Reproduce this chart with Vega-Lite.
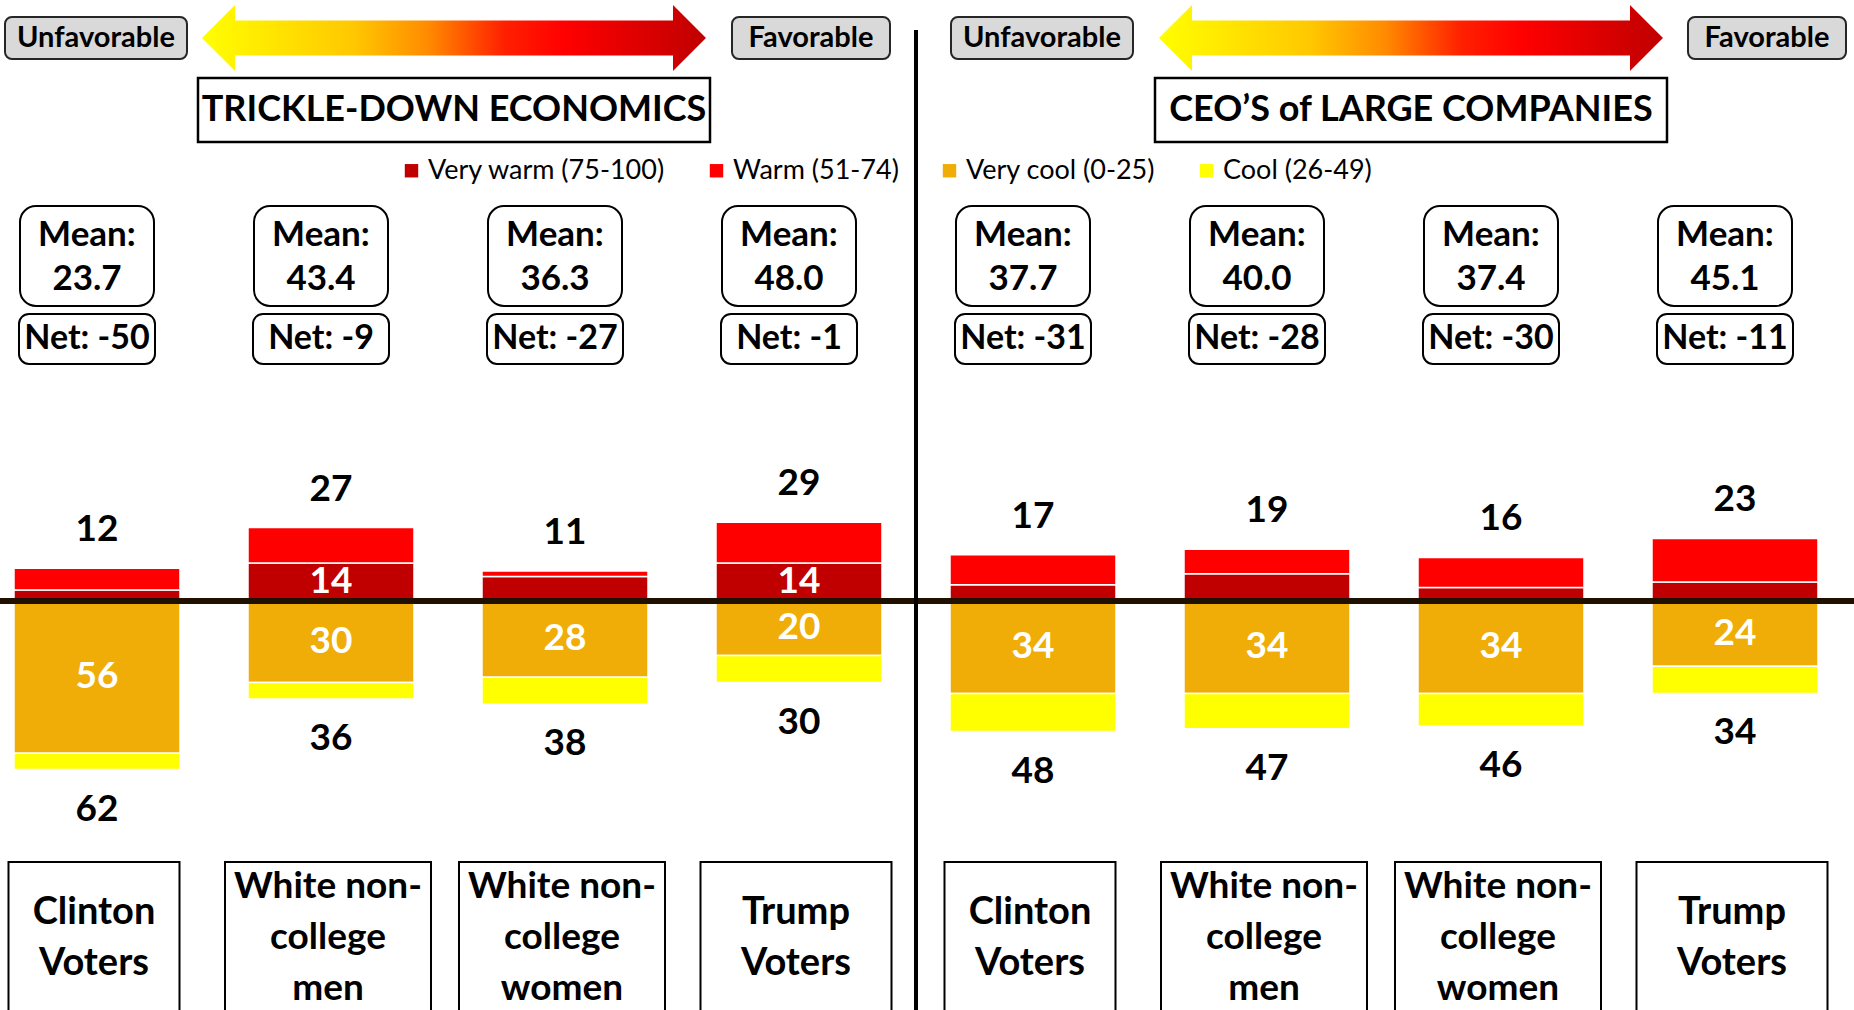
{
  "$schema": "https://vega.github.io/schema/vega-lite/v6.json",
  "width": 1854,
  "height": 1010,
  "autosize": {"type": "none"},
  "padding": 0,
  "background": "white",
  "config": {"view": {"stroke": null}, "axis": {"disable": true}, "font": "Lato"},
  "datasets": {
    "segments": [
      {"panel": "Trickle-down economics", "slot": 0, "group": "Clinton Voters", "category": "Very warm (75-100)", "level": "very", "side": "favorable", "value": 4},
      {"panel": "Trickle-down economics", "slot": 0, "group": "Clinton Voters", "category": "Warm (51-74)", "level": "moderate", "side": "favorable", "value": 8},
      {"panel": "Trickle-down economics", "slot": 0, "group": "Clinton Voters", "category": "Very cool (0-25)", "level": "very", "side": "unfavorable", "value": -56},
      {"panel": "Trickle-down economics", "slot": 0, "group": "Clinton Voters", "category": "Cool (26-49)", "level": "moderate", "side": "unfavorable", "value": -6},
      {"panel": "Trickle-down economics", "slot": 1, "group": "White non-college men", "category": "Very warm (75-100)", "level": "very", "side": "favorable", "value": 14},
      {"panel": "Trickle-down economics", "slot": 1, "group": "White non-college men", "category": "Warm (51-74)", "level": "moderate", "side": "favorable", "value": 13},
      {"panel": "Trickle-down economics", "slot": 1, "group": "White non-college men", "category": "Very cool (0-25)", "level": "very", "side": "unfavorable", "value": -30},
      {"panel": "Trickle-down economics", "slot": 1, "group": "White non-college men", "category": "Cool (26-49)", "level": "moderate", "side": "unfavorable", "value": -6},
      {"panel": "Trickle-down economics", "slot": 2, "group": "White non-college women", "category": "Very warm (75-100)", "level": "very", "side": "favorable", "value": 9},
      {"panel": "Trickle-down economics", "slot": 2, "group": "White non-college women", "category": "Warm (51-74)", "level": "moderate", "side": "favorable", "value": 2},
      {"panel": "Trickle-down economics", "slot": 2, "group": "White non-college women", "category": "Very cool (0-25)", "level": "very", "side": "unfavorable", "value": -28},
      {"panel": "Trickle-down economics", "slot": 2, "group": "White non-college women", "category": "Cool (26-49)", "level": "moderate", "side": "unfavorable", "value": -10},
      {"panel": "Trickle-down economics", "slot": 3, "group": "Trump Voters", "category": "Very warm (75-100)", "level": "very", "side": "favorable", "value": 14},
      {"panel": "Trickle-down economics", "slot": 3, "group": "Trump Voters", "category": "Warm (51-74)", "level": "moderate", "side": "favorable", "value": 15},
      {"panel": "Trickle-down economics", "slot": 3, "group": "Trump Voters", "category": "Very cool (0-25)", "level": "very", "side": "unfavorable", "value": -20},
      {"panel": "Trickle-down economics", "slot": 3, "group": "Trump Voters", "category": "Cool (26-49)", "level": "moderate", "side": "unfavorable", "value": -10},
      {"panel": "CEOs of large companies", "slot": 4, "group": "Clinton Voters", "category": "Very warm (75-100)", "level": "very", "side": "favorable", "value": 6},
      {"panel": "CEOs of large companies", "slot": 4, "group": "Clinton Voters", "category": "Warm (51-74)", "level": "moderate", "side": "favorable", "value": 11},
      {"panel": "CEOs of large companies", "slot": 4, "group": "Clinton Voters", "category": "Very cool (0-25)", "level": "very", "side": "unfavorable", "value": -34},
      {"panel": "CEOs of large companies", "slot": 4, "group": "Clinton Voters", "category": "Cool (26-49)", "level": "moderate", "side": "unfavorable", "value": -14},
      {"panel": "CEOs of large companies", "slot": 5, "group": "White non-college men", "category": "Very warm (75-100)", "level": "very", "side": "favorable", "value": 10},
      {"panel": "CEOs of large companies", "slot": 5, "group": "White non-college men", "category": "Warm (51-74)", "level": "moderate", "side": "favorable", "value": 9},
      {"panel": "CEOs of large companies", "slot": 5, "group": "White non-college men", "category": "Very cool (0-25)", "level": "very", "side": "unfavorable", "value": -34},
      {"panel": "CEOs of large companies", "slot": 5, "group": "White non-college men", "category": "Cool (26-49)", "level": "moderate", "side": "unfavorable", "value": -13},
      {"panel": "CEOs of large companies", "slot": 6, "group": "White non-college women", "category": "Very warm (75-100)", "level": "very", "side": "favorable", "value": 5},
      {"panel": "CEOs of large companies", "slot": 6, "group": "White non-college women", "category": "Warm (51-74)", "level": "moderate", "side": "favorable", "value": 11},
      {"panel": "CEOs of large companies", "slot": 6, "group": "White non-college women", "category": "Very cool (0-25)", "level": "very", "side": "unfavorable", "value": -34},
      {"panel": "CEOs of large companies", "slot": 6, "group": "White non-college women", "category": "Cool (26-49)", "level": "moderate", "side": "unfavorable", "value": -12},
      {"panel": "CEOs of large companies", "slot": 7, "group": "Trump Voters", "category": "Very warm (75-100)", "level": "very", "side": "favorable", "value": 7},
      {"panel": "CEOs of large companies", "slot": 7, "group": "Trump Voters", "category": "Warm (51-74)", "level": "moderate", "side": "favorable", "value": 16},
      {"panel": "CEOs of large companies", "slot": 7, "group": "Trump Voters", "category": "Very cool (0-25)", "level": "very", "side": "unfavorable", "value": -24},
      {"panel": "CEOs of large companies", "slot": 7, "group": "Trump Voters", "category": "Cool (26-49)", "level": "moderate", "side": "unfavorable", "value": -10}
    ],
    "groups": [
      {"panel": "Trickle-down economics", "slot": 0, "label": "Clinton\nVoters", "mean": 23.7, "net": -50},
      {"panel": "Trickle-down economics", "slot": 1, "label": "White non-\ncollege\nmen", "mean": 43.4, "net": -9},
      {"panel": "Trickle-down economics", "slot": 2, "label": "White non-\ncollege\nwomen", "mean": 36.3, "net": -27},
      {"panel": "Trickle-down economics", "slot": 3, "label": "Trump\nVoters", "mean": 48.0, "net": -1},
      {"panel": "CEOs of large companies", "slot": 4, "label": "Clinton\nVoters", "mean": 37.7, "net": -31},
      {"panel": "CEOs of large companies", "slot": 5, "label": "White non-\ncollege\nmen", "mean": 40.0, "net": -28},
      {"panel": "CEOs of large companies", "slot": 6, "label": "White non-\ncollege\nwomen", "mean": 37.4, "net": -30},
      {"panel": "CEOs of large companies", "slot": 7, "label": "Trump\nVoters", "mean": 45.1, "net": -11}
    ],
    "ends": [
      {"panel": "Trickle-down economics", "label": "Unfavorable", "slot": 0},
      {"panel": "Trickle-down economics", "label": "Favorable", "slot": 3},
      {"panel": "CEOs of large companies", "label": "Unfavorable", "slot": 4},
      {"panel": "CEOs of large companies", "label": "Favorable", "slot": 7}
    ],
    "topics": [
      {"panel": "Trickle-down economics", "title": "TRICKLE-DOWN ECONOMICS", "slot": 1.5},
      {"panel": "CEOs of large companies", "title": "CEO’S of LARGE COMPANIES", "slot": 5.5}
    ]
  },
  "layer": [
    {
      "data": {"name": "groups"},
      "mark": {"type": "bar", "fill": "white", "stroke": "black", "strokeWidth": 2, "clip": true, "xOffset": -3},
      "encoding": {
        "x": {"field": "slot", "type": "quantitative", "scale": {"domain": [-0.41453, 7.50855], "nice": false, "zero": false, "padding": 0}, "axis": null},
        "y": {"datum": -96.0, "type": "quantitative", "scale": {"domain": [-150.4, 221.0], "nice": false, "zero": false, "padding": 0}, "axis": null},
        "y2": {"datum": -160},
        "size": {"field": "label", "type": "nominal", "scale": {"type": "ordinal", "domain": ["Clinton\nVoters", "White non-\ncollege\nmen", "White non-\ncollege\nwomen", "Trump\nVoters"], "range": [171, 206, 206, 191]}, "legend": null}
      }
    },
    {
      "data": {"name": "groups"},
      "transform": [{"filter": "indexof(datum.label, 'college') < 0"}],
      "mark": {"type": "text", "font": "Lato", "fontWeight": "bold", "fontSize": 38, "lineBreak": "\n", "lineHeight": 51, "baseline": "middle", "align": "center", "color": "black", "xOffset": -3},
      "encoding": {
        "x": {"field": "slot", "type": "quantitative"},
        "y": {"datum": -114.73, "type": "quantitative"},
        "text": {"field": "label"}
      }
    },
    {
      "data": {"name": "groups"},
      "transform": [{"filter": "indexof(datum.label, 'college') >= 0"}],
      "mark": {"type": "text", "font": "Lato", "fontWeight": "bold", "fontSize": 37, "lineBreak": "\n", "lineHeight": 51, "baseline": "middle", "align": "center", "color": "black", "xOffset": -3},
      "encoding": {
        "x": {"field": "slot", "type": "quantitative"},
        "y": {"datum": -105.1, "type": "quantitative"},
        "text": {"field": "label"}
      }
    },
    {
      "data": {"name": "groups"},
      "mark": {"type": "bar", "width": 134, "cornerRadius": 16, "fill": "white", "stroke": "black", "strokeWidth": 2, "xOffset": -10},
      "encoding": {
        "x": {"field": "slot", "type": "quantitative"},
        "y": {"datum": 145.25, "type": "quantitative"},
        "y2": {"datum": 108.48}
      }
    },
    {
      "data": {"name": "groups"},
      "mark": {"type": "text", "font": "Lato", "fontWeight": "bold", "fontSize": 35, "lineBreak": "\n", "lineHeight": 44, "baseline": "middle", "align": "center", "color": "black", "xOffset": -10, "text": {"expr": "'Mean:\\n' + format(datum.mean, '.1f')"}},
      "encoding": {
        "x": {"field": "slot", "type": "quantitative"},
        "y": {"datum": 134.6, "type": "quantitative"}
      }
    },
    {
      "data": {"name": "groups"},
      "mark": {"type": "bar", "width": 136, "cornerRadius": 10, "fill": "white", "stroke": "black", "strokeWidth": 2, "xOffset": -10},
      "encoding": {
        "x": {"field": "slot", "type": "quantitative"},
        "y": {"datum": 105.54, "type": "quantitative"},
        "y2": {"datum": 87.15}
      }
    },
    {
      "data": {"name": "groups"},
      "mark": {"type": "text", "font": "Lato", "fontWeight": "bold", "fontSize": 34, "baseline": "middle", "align": "center", "color": "black", "xOffset": -10, "text": {"expr": "'Net: ' + datum.net"}},
      "encoding": {
        "x": {"field": "slot", "type": "quantitative"},
        "y": {"datum": 96.16, "type": "quantitative"}
      }
    },
    {
      "data": {"name": "segments"},
      "mark": {"type": "bar", "width": 166, "stroke": "white", "strokeWidth": 1.5},
      "encoding": {
        "x": {"field": "slot", "type": "quantitative"},
        "y": {"field": "value", "type": "quantitative", "stack": "zero"},
        "order": {"field": "level", "sort": "descending"},
        "color": {
          "field": "category",
          "type": "nominal",
          "scale": {"domain": ["Very warm (75-100)", "Warm (51-74)", "Very cool (0-25)", "Cool (26-49)"], "range": ["#c00000", "#ff0000", "#f0ad08", "#ffff00"]},
          "legend": {"orient": "none", "legendX": 398, "legendY": 157, "direction": "horizontal", "title": null, "symbolType": "square", "symbolSize": 180, "symbolStrokeWidth": 0, "labelFont": "Lato", "labelFontSize": 27, "labelColor": "black", "labelLimit": 400, "labelOffset": 3, "columnPadding": 37, "padding": 0}
        }
      }
    },
    {
      "data": {"values": [{}]},
      "mark": {"type": "rule", "color": "#201000", "strokeWidth": 6},
      "encoding": {"y": {"datum": 0, "type": "quantitative"}}
    },
    {
      "data": {"values": [{}]},
      "mark": {"type": "rule", "color": "black", "strokeWidth": 4, "clip": true},
      "encoding": {
        "x": {"datum": 3.5, "type": "quantitative"},
        "y": {"datum": 209.97, "type": "quantitative"},
        "y2": {"datum": -160}
      }
    },
    {
      "data": {"name": "segments"},
      "transform": [
        {"filter": "datum.side === 'favorable'"},
        {"aggregate": [{"op": "sum", "field": "value", "as": "total"}], "groupby": ["slot"]}
      ],
      "mark": {"type": "text", "font": "Lato", "fontWeight": "bold", "fontSize": 37, "baseline": "middle", "align": "center", "color": "black", "dy": -38, "text": {"expr": "format(abs(datum.total), 'd')"}},
      "encoding": {
        "x": {"field": "slot", "type": "quantitative"},
        "y": {"field": "total", "type": "quantitative"}
      }
    },
    {
      "data": {"name": "segments"},
      "transform": [
        {"filter": "datum.side === 'unfavorable'"},
        {"aggregate": [{"op": "sum", "field": "value", "as": "total"}], "groupby": ["slot"]}
      ],
      "mark": {"type": "text", "font": "Lato", "fontWeight": "bold", "fontSize": 37, "baseline": "middle", "align": "center", "color": "black", "dy": 40, "text": {"expr": "format(abs(datum.total), 'd')"}},
      "encoding": {
        "x": {"field": "slot", "type": "quantitative"},
        "y": {"field": "total", "type": "quantitative"}
      }
    },
    {
      "data": {"name": "segments"},
      "transform": [
        {"stack": "value", "groupby": ["slot"], "sort": [{"field": "level", "order": "descending"}], "as": ["v0", "v1"]},
        {"filter": "datum.category === 'Very cool (0-25)' || (datum.category === 'Very warm (75-100)' && datum.value >= 12)"},
        {"fold": ["v0", "v1"], "as": ["edge", "pos"]},
        {"aggregate": [{"op": "mean", "field": "pos", "as": "mid"}], "groupby": ["slot", "category", "value"]}
      ],
      "mark": {"type": "text", "font": "Lato", "fontWeight": "bold", "fontSize": 37, "baseline": "middle", "align": "center", "color": "white", "text": {"expr": "format(abs(datum.value), 'd')"}},
      "encoding": {
        "x": {"field": "slot", "type": "quantitative"},
        "y": {"field": "mid", "type": "quantitative"}
      }
    },
    {
      "data": {"name": "ends"},
      "transform": [{"filter": "datum.label === 'Unfavorable'"}],
      "mark": {"type": "bar", "width": 182, "cornerRadius": 7, "fill": "#d9d9d9", "stroke": "#262626", "strokeWidth": 2, "xOffset": {"expr": "datum.panel === 'Trickle-down economics' ? -1 : 9"}},
      "encoding": {
        "x": {"field": "slot", "type": "quantitative"},
        "y": {"datum": 214.75, "type": "quantitative"},
        "y2": {"datum": 199.3}
      }
    },
    {
      "data": {"name": "ends"},
      "transform": [{"filter": "datum.label === 'Unfavorable'"}],
      "mark": {"type": "text", "font": "Lato", "fontWeight": "bold", "fontSize": 29, "baseline": "middle", "align": "center", "color": "black", "xOffset": {"expr": "datum.panel === 'Trickle-down economics' ? -1 : 9"}},
      "encoding": {
        "x": {"field": "slot", "type": "quantitative"},
        "y": {"datum": 207.0, "type": "quantitative"},
        "text": {"field": "label"}
      }
    },
    {
      "data": {"name": "ends"},
      "transform": [{"filter": "datum.label === 'Favorable'"}],
      "mark": {"type": "bar", "width": 158, "cornerRadius": 7, "fill": "#d9d9d9", "stroke": "#262626", "strokeWidth": 2, "xOffset": {"expr": "datum.panel === 'Trickle-down economics' ? 12 : 32"}},
      "encoding": {
        "x": {"field": "slot", "type": "quantitative"},
        "y": {"datum": 214.75, "type": "quantitative"},
        "y2": {"datum": 199.3}
      }
    },
    {
      "data": {"name": "ends"},
      "transform": [{"filter": "datum.label === 'Favorable'"}],
      "mark": {"type": "text", "font": "Lato", "fontWeight": "bold", "fontSize": 29, "baseline": "middle", "align": "center", "color": "black", "xOffset": {"expr": "datum.panel === 'Trickle-down economics' ? 12 : 32"}},
      "encoding": {
        "x": {"field": "slot", "type": "quantitative"},
        "y": {"datum": 207.0, "type": "quantitative"},
        "text": {"field": "label"}
      }
    },
    {
      "data": {"name": "topics"},
      "mark": {
        "type": "point",
        "shape": "M -1 0 L -0.869 -0.131 L -0.869 -0.0694 L 0.869 -0.0694 L 0.869 -0.131 L 1 0 L 0.869 0.131 L 0.869 0.0694 L -0.869 0.0694 L -0.869 0.131 Z",
        "size": 254016,
        "filled": true,
        "opacity": 1,
        "strokeWidth": 0,
        "xOffset": {"expr": "datum.panel === 'Trickle-down economics' ? 6 : 27"},
        "fill": {"gradient": "linear", "x1": 0, "y1": 0, "x2": 1, "y2": 0, "stops": [
          {"offset": 0, "color": "#ffff00"},
          {"offset": 0.3, "color": "#ffc800"},
          {"offset": 0.45, "color": "#ff8a00"},
          {"offset": 0.6, "color": "#ff2000"},
          {"offset": 0.72, "color": "#ff0000"},
          {"offset": 1, "color": "#c00000"}
        ]}
      },
      "encoding": {
        "x": {"field": "slot", "type": "quantitative"},
        "y": {"datum": 207.0, "type": "quantitative"}
      }
    },
    {
      "data": {"name": "topics"},
      "mark": {"type": "bar", "width": 512, "fill": "white", "stroke": "black", "strokeWidth": 2.5, "xOffset": {"expr": "datum.panel === 'Trickle-down economics' ? 6 : 27"}},
      "encoding": {
        "x": {"field": "slot", "type": "quantitative"},
        "y": {"datum": 192.3, "type": "quantitative"},
        "y2": {"datum": 168.8}
      }
    },
    {
      "data": {"name": "topics"},
      "mark": {"type": "text", "font": "Lato", "fontWeight": "bold", "fontSize": 36, "baseline": "middle", "align": "center", "color": "black", "xOffset": {"expr": "datum.panel === 'Trickle-down economics' ? 6 : 27"}},
      "encoding": {
        "x": {"field": "slot", "type": "quantitative"},
        "y": {"datum": 180.55, "type": "quantitative"},
        "text": {"field": "title"}
      }
    }
  ]
}
